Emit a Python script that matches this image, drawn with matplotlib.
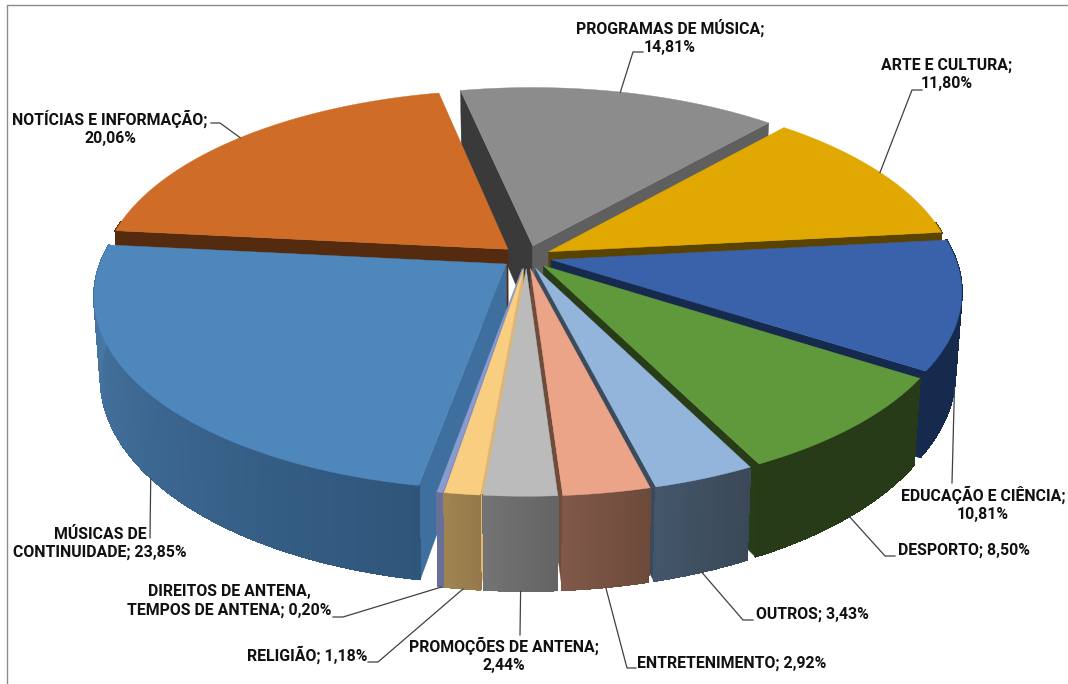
import numpy as np
import matplotlib
matplotlib.use("Agg")
import matplotlib.pyplot as plt
from matplotlib.colors import to_rgb

# ---- data (clockwise from the grey slice) ----
names = ["PROGRAMAS DE MÚSICA;\n14,81%", "ARTE E CULTURA;\n11,80%", "EDUCAÇÃO E CIÊNCIA;\n10,81%",
         "DESPORTO; 8,50%", "OUTROS; 3,43%", "ENTRETENIMENTO; 2,92%", "PROMOÇÕES DE ANTENA;\n2,44%",
         "RELIGIÃO; 1,18%", "DIREITOS DE ANTENA,\nTEMPOS DE ANTENA; 0,20%",
         "MÚSICAS DE\nCONTINUIDADE; 23,85%", "NOTÍCIAS E INFORMAÇÃO;\n20,06%"]
values = [14.81, 11.80, 10.81, 8.50, 3.43, 2.92, 2.44, 1.18, 0.20, 23.85, 20.06]
top_colors = ["#8C8C8C", "#E0A800", "#3A62AA", "#5F993C", "#93B5DC", "#EBA488", "#BBBBBB",
              "#F9CE80", "#8A9BCE", "#4E87BC", "#CE6C28"]
start_wall = ["#3A3A3A", "#5A4200", "#162A4E", "#283C18", "#3C4B5C", "#6E4C3C", "#6F6F6F",
              "#DDB673", "#7B8ABB", "#3F6F9E", "#542B0F"]
end_wall = ["#5F5F5F", "#5A4200", "#162A4E", "#283C18", "#3C4B5C", "#6E4C3C", "#6F6F6F",
            "#DDB673", "#7B8ABB", "#3F6F9E", "#542B0F"]
outer_a = ["#5F5F5F", "#5A4200", "#162A4E", "#283B18", "#3A4857", "#6C4A3A", "#636363",
           "#94784A", "#667099", "#4A7AA8", "#542B0F"]
outer_b = ["#5F5F5F", "#5A4200", "#162A4E", "#283B18", "#44566A", "#80584A", "#747474",
           "#A08552", "#667099", "#2F557A", "#542B0F"]

# ---- layout of the projection ----
CX, CY = 526.5, 257
RX, RY = 404, 187
PERSP = 0.16
DEPTH = 79
EXPLODE = 0.062
START = -11.9
BOTTOM_SHRINK = 0.985

label_style = [  # x, y, ha per label
    (670, 36.5, "center"), (947, 74.5, "center"), (983, 503.5, "center"), (898, 550, "left"),
    (756, 614, "left"), (637, 663, "left"), (504, 655, "center"), (367, 655, "right"),
    (229, 601, "center"), (100, 543.5, "center"), (110, 128, "center")]
leader_elbows = [
    [(643, 52), (633, 52)], [(922, 90), (912, 90)], [(952, 483)], [(895, 556), (885, 556)],
    [(753, 620), (743, 620)], [(636, 668), (627, 668)], [(520, 635)], [(368, 662), (378, 662)],
    [(333, 617), (343, 617)], [(150, 538)], [(211, 123), (220, 123)]]

fig = plt.figure(figsize=(10.68, 6.84), dpi=100, facecolor="white")
ax = fig.add_axes([0, 0, 1, 1])
ax.set_xlim(0, 1068)
ax.set_ylim(684, 0)
ax.axis("off")

vals = np.array(values)
edges = START + 360 * np.concatenate([[0], np.cumsum(vals)]) / vals.sum()
mids = (edges[:-1] + edges[1:]) / 2


def project(u, v, low=False):
    u, v = np.asarray(u, float), np.asarray(v, float)
    s = 1 / (1 + PERSP * v)
    x = CX + RX * u * s
    y = CY - RY * v * s
    if low:
        x = CX + (x - CX) * BOTTOM_SHRINK
        y = y + DEPTH * s
    return x, y


def rim(i, th):
    m = np.radians(mids[i])
    t = np.radians(th)
    return EXPLODE * np.sin(m) + np.sin(t), EXPLODE * np.cos(m) + np.cos(t)


def apex(i):
    m = np.radians(mids[i])
    return EXPLODE * np.sin(m), EXPLODE * np.cos(m)


def draw_radial(i, th, color, z):
    au, av = apex(i)
    ru, rv = rim(i, th)
    x1, y1 = project([au, ru], [av, rv])
    x2, y2 = project([ru, au], [rv, av], low=True)
    ax.fill(np.r_[x1, x2], np.r_[y1, y2], color=color, lw=0.3, zorder=z)


order = np.argsort(-np.cos(np.radians(mids)))
for rank, i in enumerate(order):
    z = 10 + rank * 4
    ts, te = edges[i], edges[i + 1]
    if np.sin(np.radians(ts)) < 0:
        draw_radial(i, ts, start_wall[i], z)
    if np.sin(np.radians(te)) > 0:
        draw_radial(i, te, end_wall[i], z)
    # outer wall: an antialiased base with non-antialiased shaded facets on it
    th = np.linspace(ts, te, max(4, int((te - ts) * 2)))
    th = th[np.cos(np.radians(th)) < 0.16]
    ca, cb = np.array(to_rgb(outer_a[i])), np.array(to_rgb(outer_b[i]))
    if len(th) > 1:
        uu, vv = rim(i, th)
        x1, y1 = project(uu, vv)
        x2, y2 = project(uu[::-1], vv[::-1], low=True)
        ax.fill(np.r_[x1, x2], np.r_[y1, y2], color=(ca + cb) / 2, lw=0.4, zorder=z + 1)
    for k in range(len(th) - 1):
        tm = (th[k] + th[k + 1]) / 2
        uu, vv = rim(i, np.array([th[k], th[k + 1]]))
        x1, y1 = project(uu, vv)
        x2, y2 = project(uu[::-1], vv[::-1], low=True)
        f = (tm - ts) / (te - ts)
        if i == 9:  # largest slice: darker towards the front
            f = 1 - f
        col = ca + (cb - ca) * f
        ax.fill(np.r_[x1, x2], np.r_[y1, y2 - 0.5], color=col, lw=0.8, antialiased=False,
                zorder=z + 1.5)
    # top face
    th = np.linspace(ts, te, 120)
    uu, vv = rim(i, th)
    au, av = apex(i)
    x, y = project(np.r_[au, uu], np.r_[av, vv])
    ax.fill(x, y, color=top_colors[i], lw=0.3, zorder=z + 2)

# leader lines start at the mid-angle of each slice's visible rim
FONT = ["Roboto", "Liberation Sans", "DejaVu Sans"]
for i, name in enumerate(names):
    uu, vv = rim(i, mids[i])
    front = np.cos(np.radians(mids[i])) < 0
    ax_, ay_ = project(uu, vv, low=front)
    pts = leader_elbows[i] + [(float(ax_), float(ay_))]
    ax.plot([p[0] for p in pts], [p[1] for p in pts], color="#404040", lw=0.9, zorder=100,
            solid_joinstyle="miter")
    lx, ly, ha = label_style[i]
    ax.text(lx, ly, name, ha=ha, va="center", multialignment="center", family=FONT,
            fontweight="bold", fontsize=11.4, color="#111111", linespacing=1.24, zorder=101)

# chart frame
ax.plot([7, 7, 1068], [684, 5, 5], color="#8C8C8C", lw=1.0, zorder=1)

fig.savefig("out.png", dpi=100)
